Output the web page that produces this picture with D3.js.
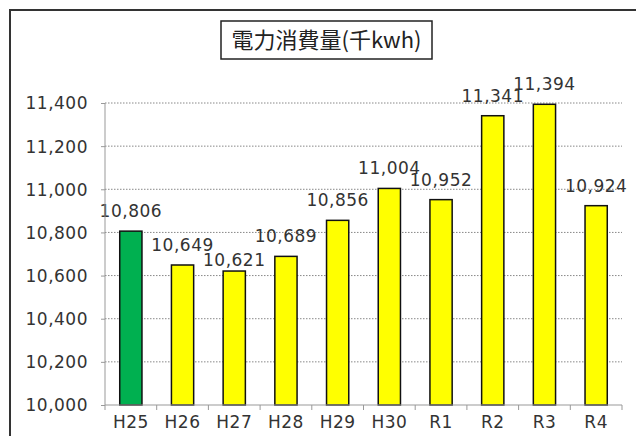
<!DOCTYPE html>
<html>
<head>
<meta charset="utf-8">
<script src="https://cdn.jsdelivr.net/npm/d3@7"></script>
<style>
  body { margin: 0; background: #fff; }
  text { font-family: "DejaVu Sans", sans-serif; fill: #333; letter-spacing: 0.5px; }
  .title { font-family: "Noto Sans CJK JP", sans-serif; fill: #222; letter-spacing: 0; }
</style>
</head>
<body>
<div id="chart"></div>
<script>
// Data
let years = ['H25', 'H26', 'H27', 'H28', 'H29', 'H30', 'R1', 'R2', 'R3', 'R4'];
let usage = [10806, 10649, 10621, 10689, 10856, 11004, 10952, 11341, 11394, 10924];
let yTicks = [10000, 10200, 10400, 10600, 10800, 11000, 11200, 11400];
let chartTitle = '電力消費量(千kwh)';

let svgWidth = 636;
let svgHeight = 436;

// plot area
let margin = { top: 103, right: 14, bottom: 31, left: 105 };
let width = svgWidth - margin.left - margin.right;
let height = svgHeight - margin.top - margin.bottom;

let svg = d3.select('#chart')
    .append('svg')
    .attr('width', svgWidth)
    .attr('height', svgHeight);

// outer frame (cropped on right and bottom)
svg.append('rect')
    .attr('x', 10)
    .attr('y', 10)
    .attr('width', 640)
    .attr('height', 440)
    .attr('fill', 'none')
    .attr('stroke', '#333')
    .attr('stroke-width', 2);

// title box
let titleGroup = svg.append('g');
titleGroup.append('rect')
    .attr('x', 221)
    .attr('y', 21)
    .attr('width', 211)
    .attr('height', 38)
    .attr('fill', '#fff')
    .attr('stroke', '#222')
    .attr('stroke-width', 1.5);
titleGroup.append('text')
    .attr('class', 'title')
    .attr('x', 326.5)
    .attr('y', 48)
    .attr('text-anchor', 'middle')
    .style('font-size', '22px')
    .text(chartTitle);

let chartGroup = svg.append('g')
    .attr('transform', `translate(${margin.left}, ${margin.top})`);

let xScale = d3.scaleBand()
    .domain(years)
    .range([0, width])
    .paddingInner(0.57)
    .paddingOuter(0.285);

let yScale = d3.scaleLinear()
    .domain([10000, 11400])
    .range([height, 0]);

// gridlines
chartGroup.selectAll('.grid')
    .data(yTicks.slice(1))
    .enter()
    .append('line')
    .attr('x1', 0)
    .attr('x2', width)
    .attr('y1', d => yScale(d))
    .attr('y2', d => yScale(d))
    .attr('stroke', '#888')
    .attr('stroke-width', 1)
    .attr('stroke-dasharray', '1.5,1.5');

// bars
chartGroup.selectAll('.bar')
    .data(usage)
    .enter()
    .append('rect')
    .attr('x', (d, i) => xScale(years[i]))
    .attr('y', d => yScale(d))
    .attr('width', xScale.bandwidth())
    .attr('height', d => height - yScale(d))
    .attr('fill', (d, i) => i === 0 ? '#00B050' : '#FFFF00')
    .attr('stroke', '#111')
    .attr('stroke-width', 1.5);

// value labels - push a label down when it would sit almost level with the previous one
let labelY = [];
usage.forEach(function(d, i) {
    let y = yScale(d) - 14;
    if (i > 0 && y > labelY[i - 1] && y - labelY[i - 1] < 9) {
        y = labelY[i - 1] + 15;
    }
    labelY.push(y);
});

chartGroup.selectAll('.label')
    .data(usage)
    .enter()
    .append('text')
    .attr('x', (d, i) => xScale(years[i]) + xScale.bandwidth() / 2)
    .attr('y', (d, i) => labelY[i])
    .attr('text-anchor', 'middle')
    .style('font-size', '17px')
    .text(d => d3.format(',')(d));

// y axis
let leftAxis = d3.axisLeft(yScale)
    .tickValues(yTicks)
    .tickSize(4)
    .tickPadding(13)
    .tickFormat(d3.format(','));
let yAxis = chartGroup.append('g').call(leftAxis);
yAxis.select('.domain').attr('stroke', '#999').attr('d', `M0,0V${height}`);
yAxis.selectAll('.tick line').attr('stroke', '#999');
yAxis.selectAll('text').style('font-size', '17px').attr('dy', '0.35em');

// x axis with ticks at band boundaries
let xAxis = chartGroup.append('g')
    .attr('transform', `translate(0, ${height})`);
xAxis.append('line')
    .attr('x1', 0)
    .attr('x2', width)
    .attr('stroke', '#999');
let step = xScale.step();
xAxis.selectAll('.xtick')
    .data(d3.range(years.length + 1))
    .enter()
    .append('line')
    .attr('x1', d => d * step)
    .attr('x2', d => d * step)
    .attr('y1', 0)
    .attr('y2', 5)
    .attr('stroke', '#999');
xAxis.selectAll('.xlabel')
    .data(years)
    .enter()
    .append('text')
    .attr('x', d => xScale(d) + xScale.bandwidth() / 2)
    .attr('y', 23)
    .attr('text-anchor', 'middle')
    .style('font-size', '17px')
    .text(d => d);
</script>
</body>
</html>
